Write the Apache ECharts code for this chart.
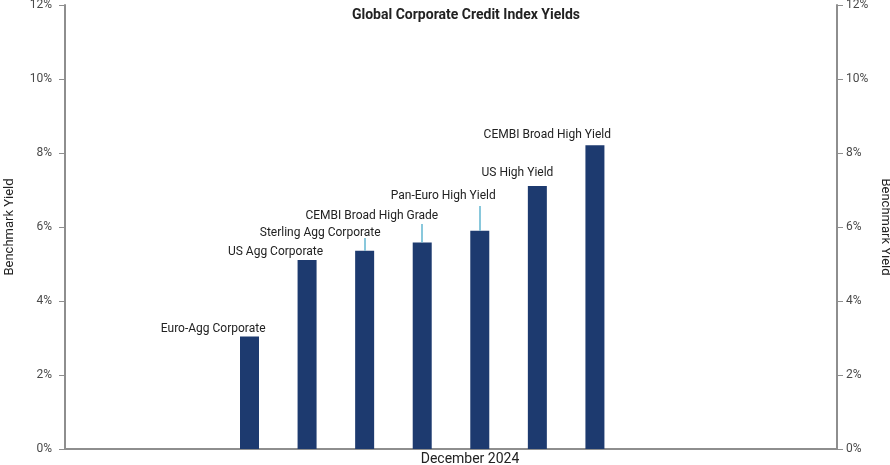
<!DOCTYPE html>
<html>
<head>
<meta charset="utf-8">
<script src="https://cdn.jsdelivr.net/npm/echarts@6/dist/echarts.min.js"></script>
<style>
  html, body { margin: 0; padding: 0; background: #fff; }
  #main { width: 890px; height: 465px; }
</style>
</head>
<body>
<div id="main"></div>
<script>
// data
var categories = ['December 2024'];
var indexNames = ['Euro-Agg Corporate', 'US Agg Corporate', 'Sterling Agg Corporate',
    'CEMBI Broad High Grade', 'Pan-Euro High Yield', 'US High Yield', 'CEMBI Broad High Yield'];
var yields = [3.04, 5.11, 5.36, 5.58, 5.90, 7.11, 8.21];
var yTicks = [0, 2, 4, 6, 8, 10, 12];

// label placement (px above bar top) and leader line length (in % units)
var labelGap = [8, 8, 18, 27, 35, 13, 10];
var leaderLen = [0, 0, 0.34, 0.5, 0.67, 0, 0];

var myChart = echarts.init(document.getElementById('main'));
var font = 'Roboto, "DejaVu Sans", sans-serif';
var axisGrey = '#8e8e8e';

function yAxisCfg(pos) {
    return {
        type: 'value',
        position: pos,
        min: yTicks[0],
        max: yTicks[yTicks.length - 1],
        interval: 2,
        name: 'Benchmark Yield',
        nameLocation: 'middle',
        nameGap: pos === 'left' ? 49 : 40,
        nameRotate: pos === 'left' ? 90 : -90,
        nameTextStyle: { fontFamily: font, fontSize: 13, color: '#222' },
        axisLine: { show: true, lineStyle: { color: axisGrey, width: 2 } },
        axisTick: { show: true, length: 6, lineStyle: { color: axisGrey, width: 1 } },
        axisLabel: {
            formatter: '{value}%', fontFamily: font, fontSize: 12, color: '#4a4a4a',
            margin: pos === 'left' ? 13 : 9
        },
        splitLine: { show: false }
    };
}

var series = indexNames.map(function (name, i) {
    var s = {
        name: name,
        type: 'bar',
        yAxisIndex: 0,
        barWidth: 19,
        barGap: '203%',
        itemStyle: { color: '#1d3a6f' },
        label: {
            show: true,
            position: 'top',
            distance: labelGap[i],
            align: 'right',
            verticalAlign: 'middle',
            offset: [16, 0],
            formatter: '{a}',
            fontFamily: font,
            fontSize: 12,
            color: '#222'
        },
        data: [yields[i]]
    };
    if (leaderLen[i] > 0) {
        s.markLine = {
            silent: true,
            animation: false,
            symbol: ['none', 'none'],
            label: { show: false },
            lineStyle: { color: '#62b6d1', width: 1.5, type: 'solid' },
            data: [[{ coord: [0, yields[i]] }, { coord: [0, yields[i] + leaderLen[i]] }]]
        };
    }
    return s;
});
// empty slot that the original layout keeps on the right of the group
series.push({ name: '', type: 'bar', barWidth: 19, barGap: '203%', data: ['-'] });

var option = {
    animation: false,
    title: {
        text: 'Global Corporate Credit Index Yields',
        left: 461,
        textAlign: 'center',
        top: 3,
        textStyle: { fontFamily: font, fontSize: 14, fontWeight: 'bold', color: '#222' }
    },
    grid: { left: 65, right: 53, top: 5, bottom: 16, outerBoundsMode: 'none', containLabel: false },
    xAxis: {
        type: 'category',
        data: categories,
        axisLine: { show: true, lineStyle: { color: axisGrey, width: 2 } },
        axisTick: { show: false },
        axisLabel: { fontFamily: font, fontSize: 14, color: '#222', margin: 3, padding: [0, 0, 0, 38] }
    },
    yAxis: [yAxisCfg('left'), yAxisCfg('right')],
    series: series
};

myChart.setOption(option);
</script>
</body>
</html>
